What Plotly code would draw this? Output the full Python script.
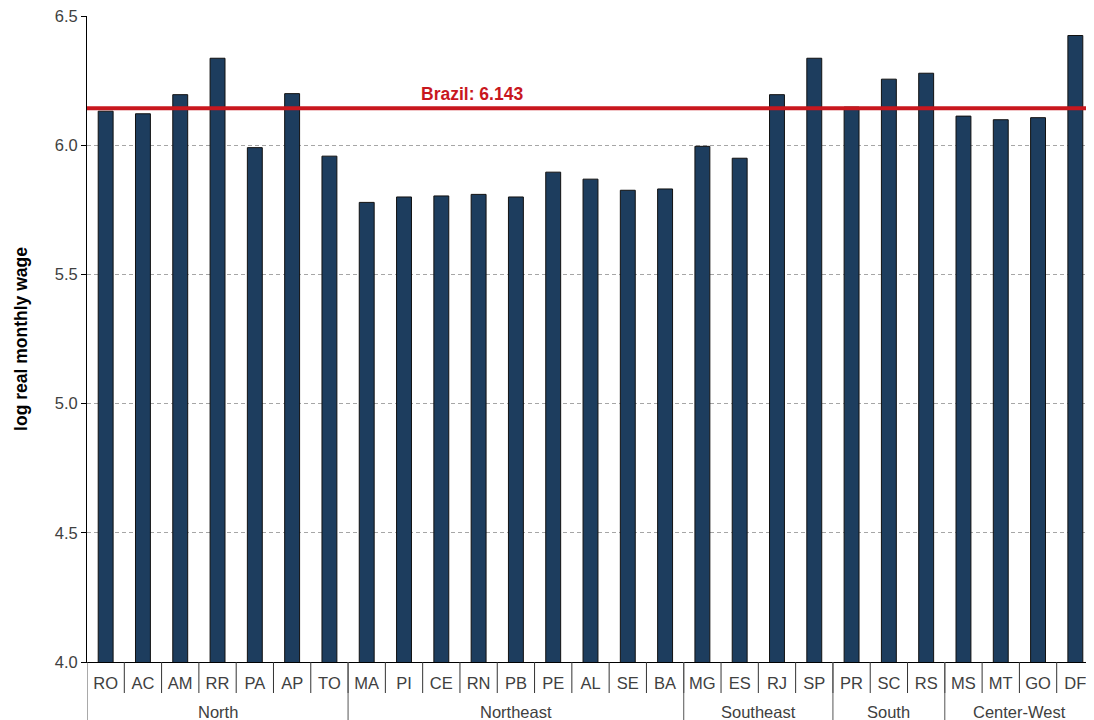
import plotly.graph_objects as go

regions = ["North"] * 7 + ["Northeast"] * 9 + ["Southeast"] * 4 + ["South"] * 3 + ["Center-West"] * 4
states = ["RO", "AC", "AM", "RR", "PA", "AP", "TO",
          "MA", "PI", "CE", "RN", "PB", "PE", "AL", "SE", "BA",
          "MG", "ES", "RJ", "SP",
          "PR", "SC", "RS",
          "MS", "MT", "GO", "DF"]
log_wage = [6.132, 6.122, 6.196, 6.337, 5.991, 6.200, 5.958,
            5.779, 5.800, 5.804, 5.810, 5.800, 5.896, 5.869, 5.826, 5.831,
            5.996, 5.950, 6.196, 6.337,
            6.148, 6.256, 6.279,
            6.113, 6.099, 6.107, 6.425]
brazil_avg = 6.143
y_ticks = [4.0, 4.5, 5.0, 5.5, 6.0, 6.5]

font_family = "Liberation Sans, Arial, sans-serif"
txt_color = "#404040"
plot_h = 712 - 8 - 58

fig = go.Figure()
fig.add_trace(go.Bar(
    x=states, y=log_wage,
    marker=dict(color="#1d3d5e", line=dict(color="#111111", width=1)),
    width=0.4, showlegend=False,
))

# Brazil average line
fig.add_shape(type="line", xref="paper", yref="y", x0=0, x1=1,
              y0=brazil_avg, y1=brazil_avg,
              line=dict(color="#c8171e", width=4), layer="above")
fig.add_annotation(xref="paper", yref="y", x=0.382, y=brazil_avg,
                   text="<b>Brazil: %.3f</b>" % brazil_avg, showarrow=False,
                   yanchor="bottom", yshift=2,
                   font=dict(color="#c8171e", size=17.5, family=font_family))

# separators between state labels
n = len(states)
for i in range(1, n):
    fig.add_shape(type="line", xref="x", yref="paper",
                  x0=i - 0.5, x1=i - 0.5, y0=0, y1=-31 / plot_h,
                  line=dict(color="#333333", width=1), layer="above")

# region groups: dividers and labels
groups = []
for i, r in enumerate(regions):
    if not groups or groups[-1][0] != r:
        groups.append([r, i, i])
    else:
        groups[-1][2] = i
for k, (name, s, e) in enumerate(groups):
    fig.add_shape(type="line", xref="x", yref="paper",
                  x0=s - 0.5, x1=s - 0.5, y0=0, y1=-60 / plot_h,
                  line=dict(color="#555555", width=1), layer="above")
    fig.add_annotation(xref="x", yref="paper", x=(s + e) / 2, y=-50 / plot_h,
                       text=name, showarrow=False, yanchor="middle",
                       font=dict(size=16.5, color=txt_color, family=font_family))
fig.add_shape(type="line", xref="x", yref="paper",
              x0=n - 0.5, x1=n - 0.5, y0=0, y1=-60 / plot_h,
              line=dict(color="#555555", width=1), layer="above")

fig.update_layout(
    width=1086, height=712,
    margin=dict(l=79, r=0, t=8, b=58),
    plot_bgcolor="white", paper_bgcolor="white",
    font=dict(family=font_family, size=16.5, color=txt_color),
    bargap=0.6,
)
fig.update_xaxes(
    type="category", range=[-0.5, n - 0.5],
    showline=True, linecolor="#000000", linewidth=1,
    ticks="", showgrid=False, ticklabelstandoff=6,
    tickfont=dict(size=16.5, color=txt_color),
    automargin=False,
)
fig.update_yaxes(
    range=[4.0, 6.5005], tickvals=y_ticks, tickformat=".1f",
    showline=True, linecolor="#000000", linewidth=1,
    ticks="outside", ticklen=5, tickcolor="#000000",
    showgrid=True, gridcolor="#a6a6a6", griddash="4px,3px", gridwidth=1.3,
    zeroline=False, ticklabeloverflow="allow",
    tickfont=dict(size=16.5, color=txt_color),
    title=dict(text="<b>log real monthly wage</b>", font=dict(size=17.5, color="#000000"), standoff=22),
    automargin=False,
)

fig.write_html("out.html")
